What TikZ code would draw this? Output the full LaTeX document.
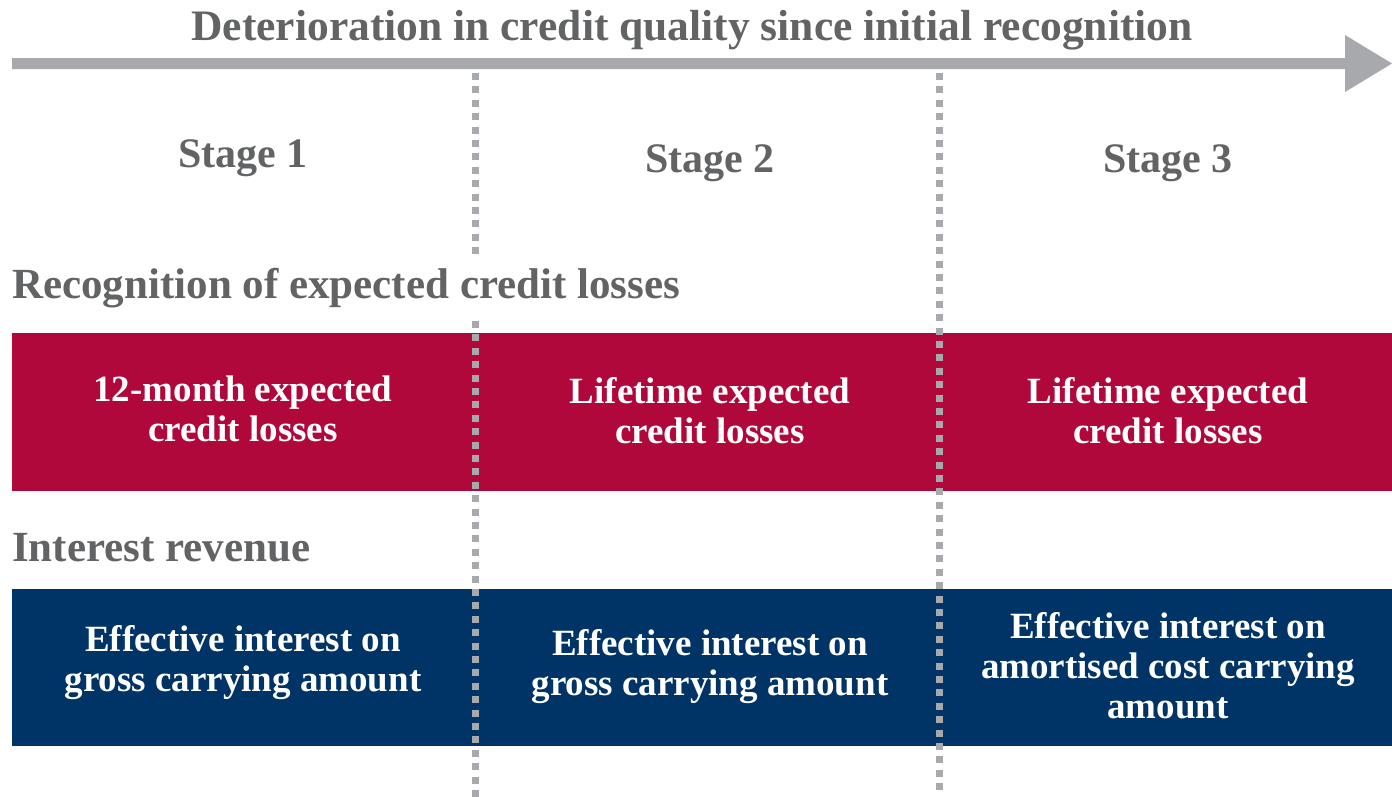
\documentclass[tikz,border=0pt]{standalone}
\usepackage{fontspec}
\setmainfont{Liberation Serif}
\definecolor{txtgray}{HTML}{616365}
\definecolor{lightgray}{HTML}{A7A9AC}
\definecolor{ecred}{HTML}{B0083A}
\definecolor{ecblue}{HTML}{003366}
\begin{document}
\begin{tikzpicture}[x=1pt,y=-1pt,
  heading/.style={font=\fontsize{43}{48}\selectfont\bfseries, text=txtgray, inner sep=0pt, anchor=base},
  cell/.style={font=\fontsize{37}{40}\selectfont\bfseries, text=white, align=center, inner sep=0pt, anchor=base},
  band/.style={rectangle, inner sep=0pt, minimum width=1380pt, anchor=north west},
  dots/.style={draw=lightgray, line width=7pt, dash pattern=on 7pt off 6.4pt}]
\useasboundingbox (0,0) rectangle (1392,796);
% arrow
\fill[lightgray] (12,58) -- (1345,58) -- (1345,35) -- (1392,63.5) -- (1345,92) -- (1345,69) -- (12,69) -- cycle;
\node[heading, font=\fontsize{43.5}{48}\selectfont\bfseries] (title) at (692,40) {Deterioration in credit quality since initial recognition};
% bands
\node[band, fill=ecred, minimum height=158pt] (eclband) at (12,333) {};
\node[band, fill=ecblue, minimum height=157pt] (revband) at (12,589) {};
% dividers
\coordinate (d1a) at (475,73); \coordinate (d1b) at (475,258);
\coordinate (d1c) at (475,321); \coordinate (d1d) at (475,800);
\coordinate (d2a) at (939,73); \coordinate (d2b) at (939,800);
\draw[dots] (d1a) -- (d1b);
\draw[dots] (d1c) -- (d1d);
\draw[dots] (d2a) -- (d2b);
% stage headings
\node[heading, font=\fontsize{42}{48}\selectfont\bfseries] (s1) at (243,167) {Stage 1};
\node[heading, font=\fontsize{42}{48}\selectfont\bfseries] (s2) at (710,172) {Stage 2};
\node[heading, font=\fontsize{42}{48}\selectfont\bfseries] (s3) at (1168,172) {Stage 3};
\node[heading, anchor=base west] (recog) at (12,298) {Recognition of expected credit losses};
\node[heading, anchor=base west] (interest) at (12,561) {Interest revenue};
% red cells (base anchor = last line)
\node[cell] (ecl1) at (243,441) {12-month expected\\credit losses};
\node[cell] (ecl2) at (710,443) {Lifetime expected\\credit losses};
\node[cell] (ecl3) at (1168,443) {Lifetime expected\\credit losses};
% blue cells
\node[cell] (rev1) at (243,691) {Effective interest on\\gross carrying amount};
\node[cell] (rev2) at (710,695) {Effective interest on\\gross carrying amount};
\node[cell] (rev3) at (1168,718) {Effective interest on\\amortised cost carrying\\amount};
\end{tikzpicture}
\end{document}
